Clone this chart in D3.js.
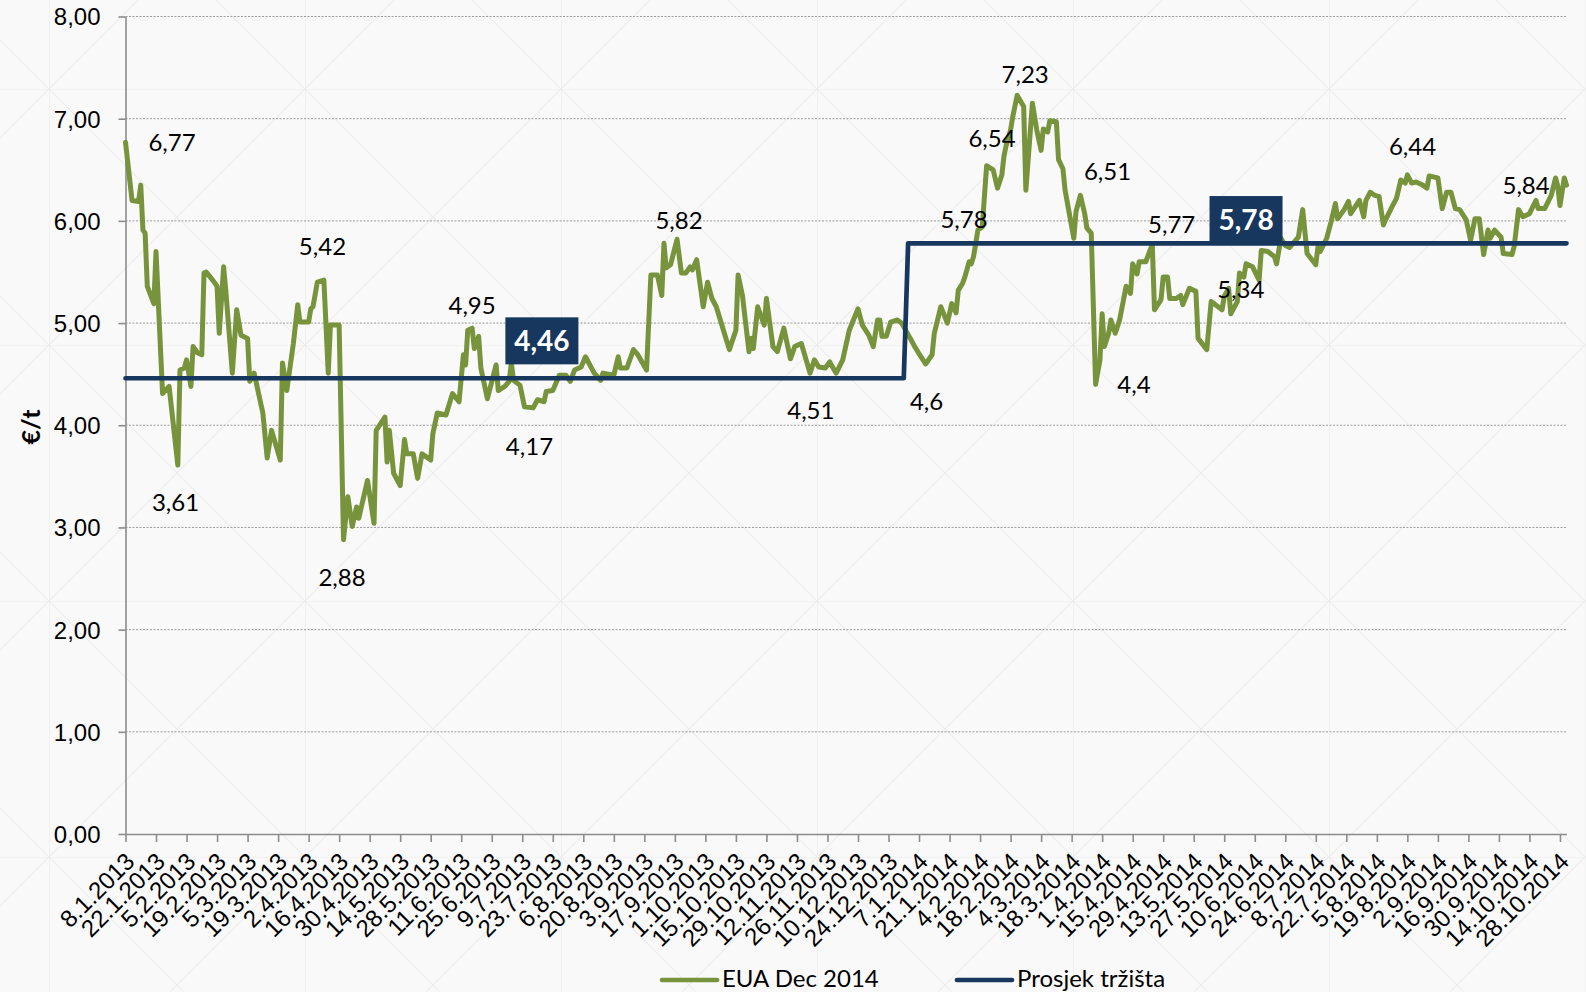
<!DOCTYPE html>
<html>
<head>
<meta charset="utf-8">
<script src="https://cdn.jsdelivr.net/npm/d3@7"></script>
<style>
  html, body { margin: 0; padding: 0; background: #f9f9f9; }
  svg { display: block; font-family: Lato, "Open Sans", "Noto Sans", sans-serif; }
</style>
</head>
<body>
<svg id="chart" width="1586" height="992"></svg>
<script>
// EUA Dec 2014 settlement price, €/t
const euaDec2014 = [
  ["2013-01-08",6.77],["2013-01-11",6.20],["2013-01-14",6.19],["2013-01-15",6.35],["2013-01-16",5.91],
  ["2013-01-17",5.88],["2013-01-18",5.36],["2013-01-21",5.19],["2013-01-22",5.70],["2013-01-25",4.31],
  ["2013-01-28",4.38],["2013-02-01",3.61],["2013-02-02",4.54],["2013-02-04",4.56],["2013-02-05",4.64],
  ["2013-02-07",4.38],["2013-02-08",4.77],["2013-02-10",4.71],["2013-02-12",4.69],["2013-02-13",5.49],
  ["2013-02-14",5.50],["2013-02-17",5.42],["2013-02-19",5.36],["2013-02-20",4.90],["2013-02-22",5.55],
  ["2013-02-23",5.32],["2013-02-26",4.51],["2013-02-28",5.13],["2013-03-02",4.88],["2013-03-05",4.85],
  ["2013-03-06",4.43],["2013-03-08",4.51],["2013-03-12",4.12],["2013-03-14",3.68],["2013-03-16",3.95],
  ["2013-03-20",3.66],["2013-03-21",4.61],["2013-03-23",4.34],["2013-03-26",4.80],["2013-03-28",5.18],
  ["2013-03-29",5.01],["2013-04-02",5.01],["2013-04-03",5.14],["2013-04-04",5.16],["2013-04-06",5.40],
  ["2013-04-09",5.42],["2013-04-11",4.51],["2013-04-12",4.98],["2013-04-16",4.98],["2013-04-18",2.88],
  ["2013-04-20",3.30],["2013-04-22",3.01],["2013-04-24",3.20],["2013-04-25",3.09],["2013-04-29",3.46],
  ["2013-05-02",3.04],["2013-05-03",3.95],["2013-05-07",4.08],["2013-05-08",3.64],["2013-05-09",3.95],
  ["2013-05-11",3.53],["2013-05-14",3.41],["2013-05-16",3.86],["2013-05-17",3.72],["2013-05-20",3.72],
  ["2013-05-22",3.48],["2013-05-24",3.72],["2013-05-28",3.66],["2013-05-29",3.92],["2013-05-31",4.12],
  ["2013-06-04",4.10],["2013-06-07",4.31],["2013-06-10",4.23],["2013-06-12",4.69],["2013-06-13",4.59],
  ["2013-06-14",4.93],["2013-06-16",4.95],["2013-06-17",4.75],["2013-06-19",4.87],["2013-06-20",4.56],
  ["2013-06-23",4.26],["2013-06-27",4.59],["2013-06-28",4.34],["2013-07-01",4.38],["2013-07-03",4.43],
  ["2013-07-04",4.61],["2013-07-05",4.44],["2013-07-08",4.39],["2013-07-10",4.18],["2013-07-14",4.17],
  ["2013-07-16",4.25],["2013-07-19",4.23],["2013-07-20",4.33],["2013-07-23",4.34],["2013-07-26",4.49],
  ["2013-07-29",4.49],["2013-07-31",4.43],["2013-08-02",4.54],["2013-08-05",4.57],["2013-08-07",4.67],
  ["2013-08-11",4.51],["2013-08-14",4.44],["2013-08-15",4.51],["2013-08-20",4.49],["2013-08-22",4.67],
  ["2013-08-23",4.56],["2013-08-26",4.56],["2013-08-29",4.74],["2013-08-31",4.69],["2013-09-04",4.54],
  ["2013-09-06",5.47],["2013-09-09",5.47],["2013-09-11",5.27],["2013-09-12",5.78],["2013-09-13",5.54],
  ["2013-09-15",5.57],["2013-09-18",5.82],["2013-09-20",5.49],["2013-09-22",5.49],["2013-09-24",5.55],
  ["2013-09-25",5.52],["2013-09-27",5.62],["2013-09-30",5.16],["2013-10-02",5.40],["2013-10-04",5.24],
  ["2013-10-06",5.16],["2013-10-09",4.95],["2013-10-12",4.74],["2013-10-15",4.93],["2013-10-16",5.47],
  ["2013-10-18",5.27],["2013-10-21",4.72],["2013-10-22",4.85],["2013-10-23",4.75],["2013-10-25",5.16],
  ["2013-10-28",4.98],["2013-10-29",5.24],["2013-11-01",4.77],["2013-11-03",4.72],["2013-11-06",4.95],
  ["2013-11-09",4.65],["2013-11-11",4.77],["2013-11-14",4.80],["2013-11-18",4.51],["2013-11-20",4.64],
  ["2013-11-22",4.57],["2013-11-25",4.56],["2013-11-27",4.62],["2013-11-30",4.51],["2013-12-03",4.64],
  ["2013-12-06",4.93],["2013-12-10",5.14],["2013-12-12",4.98],["2013-12-15",4.88],["2013-12-17",4.77],
  ["2013-12-19",5.03],["2013-12-20",5.03],["2013-12-21",4.87],["2013-12-23",4.87],["2013-12-25",5.01],
  ["2013-12-28",5.03],["2013-12-30",5.00],
  ["2014-01-03",4.85],["2014-01-05",4.77],["2014-01-07",4.70],["2014-01-10",4.60],["2014-01-13",4.69],
  ["2014-01-14",4.90],["2014-01-17",5.16],["2014-01-20",5.00],["2014-01-22",5.19],["2014-01-24",5.10],
  ["2014-01-25",5.32],["2014-01-27",5.39],["2014-01-28",5.45],["2014-01-30",5.60],["2014-01-31",5.58],
  ["2014-02-01",5.65],["2014-02-02",5.78],["2014-02-03",5.91],["2014-02-05",5.94],["2014-02-07",6.54],
  ["2014-02-10",6.50],["2014-02-12",6.32],["2014-02-14",6.45],["2014-02-15",6.64],["2014-02-16",6.74],
  ["2014-02-18",6.89],["2014-02-19",7.02],["2014-02-21",7.23],["2014-02-24",7.12],["2014-02-25",6.30],
  ["2014-02-28",7.15],["2014-03-02",6.89],["2014-03-04",6.69],["2014-03-05",6.90],["2014-03-07",6.87],
  ["2014-03-08",6.98],["2014-03-11",6.97],["2014-03-12",6.60],["2014-03-14",6.51],["2014-03-15",6.30],
  ["2014-03-19",5.83],["2014-03-20",6.09],["2014-03-22",6.25],["2014-03-24",6.07],["2014-03-25",5.93],
  ["2014-03-27",5.88],["2014-03-29",4.40],["2014-03-31",4.64],["2014-04-01",5.09],["2014-04-02",4.77],
  ["2014-04-04",4.90],["2014-04-05",5.03],["2014-04-07",4.90],["2014-04-09",5.03],["2014-04-12",5.36],
  ["2014-04-14",5.29],["2014-04-15",5.58],["2014-04-17",5.48],["2014-04-18",5.60],["2014-04-21",5.60],
  ["2014-04-24",5.77],["2014-04-25",5.13],["2014-04-28",5.23],["2014-04-29",5.45],["2014-05-01",5.45],
  ["2014-05-02",5.24],["2014-05-05",5.24],["2014-05-07",5.27],["2014-05-08",5.18],["2014-05-11",5.34],
  ["2014-05-14",5.31],["2014-05-15",4.85],["2014-05-19",4.74],["2014-05-21",5.21],["2014-05-26",5.13],
  ["2014-05-27",5.26],["2014-05-29",5.34],["2014-05-30",5.09],["2014-06-02",5.21],["2014-06-03",5.49],
  ["2014-06-05",5.45],["2014-06-06",5.58],["2014-06-09",5.55],["2014-06-12",5.42],["2014-06-13",5.71],
  ["2014-06-16",5.70],["2014-06-19",5.65],["2014-06-20",5.58],["2014-06-22",5.83],["2014-06-24",5.76],
  ["2014-06-26",5.74],["2014-06-30",5.84],["2014-07-02",6.11],["2014-07-04",5.68],["2014-07-08",5.57],
  ["2014-07-09",5.75],["2014-07-10",5.70],["2014-07-13",5.83],["2014-07-15",5.99],["2014-07-17",6.17],
  ["2014-07-18",6.02],["2014-07-21",6.11],["2014-07-23",6.19],["2014-07-24",6.07],["2014-07-28",6.20],
  ["2014-07-30",6.04],["2014-07-31",6.20],["2014-08-02",6.28],["2014-08-04",6.25],["2014-08-06",6.24],
  ["2014-08-08",5.96],["2014-08-09",6.01],["2014-08-12",6.14],["2014-08-14",6.22],["2014-08-16",6.40],
  ["2014-08-18",6.37],["2014-08-19",6.45],["2014-08-21",6.37],["2014-08-23",6.38],["2014-08-26",6.35],
  ["2014-08-28",6.32],["2014-08-29",6.44],["2014-08-31",6.43],["2014-09-02",6.42],["2014-09-04",6.12],
  ["2014-09-06",6.28],["2014-09-08",6.28],["2014-09-10",6.12],["2014-09-12",6.11],["2014-09-15",6.01],
  ["2014-09-17",5.81],["2014-09-19",6.02],["2014-09-21",6.02],["2014-09-23",5.67],["2014-09-25",5.91],
  ["2014-09-26",5.83],["2014-09-28",5.91],["2014-10-01",5.84],["2014-10-02",5.68],["2014-10-06",5.67],
  ["2014-10-07",5.75],["2014-10-09",6.11],["2014-10-11",6.04],["2014-10-14",6.07],["2014-10-17",6.20],
  ["2014-10-18",6.12],["2014-10-21",6.12],["2014-10-24",6.25],["2014-10-26",6.42],["2014-10-27",6.34],
  ["2014-10-28",6.15],["2014-10-30",6.42],["2014-10-31",6.35]
];

// Yearly market average (Prosjek tržišta)
const marketAverage = [
  ["2013-01-08",4.46],["2013-12-31",4.46],["2014-01-02",5.78],["2014-10-31",5.78]
];

// Dates of the EUA points that carry a value label
const labelledDates = [
  "2013-01-08","2013-02-01","2013-04-09","2013-04-18","2013-06-16","2013-07-14",
  "2013-09-18","2013-11-18","2014-01-10","2014-02-02","2014-02-07","2014-02-21",
  "2014-03-14","2014-03-29","2014-04-24","2014-05-29","2014-08-29","2014-10-01"
];

// Dates on the average line where the boxed average is shown
const averageBoxDates = ["2013-07-18","2014-06-06"];

const yTickValues = [0, 1, 2, 3, 4, 5, 6, 7, 8];
const axisStart = "2013-01-08";
const axisEnd = "2014-10-31";
const tickStepDays = 14;
const yAxisTitle = "€/t";
const seriesNames = ["EUA Dec 2014", "Prosjek tržišta"];

// ---- drawing ----
const GREEN = "#77933c", NAVY = "#17375e";
const parse = d3.utcParse("%Y-%m-%d");
const svg = d3.select("#chart");
const W = 1586, H = 992;

const x = d3.scaleUtc().domain([parse(axisStart), parse(axisEnd)]).range([125.5, 1566.5]);
const y = d3.scaleLinear().domain([0, 8]).range([834, 16.5]);
const comma = v => String(v).replace(".", ",");

// textured backdrop
const defs = svg.append("defs");
const pat = defs.append("pattern").attr("id", "tile")
  .attr("patternUnits", "userSpaceOnUse").attr("x", 49).attr("y", 89)
  .attr("width", 256).attr("height", 256);
pat.append("rect").attr("width", 256).attr("height", 256).attr("fill", "#f9f9f9");
[[0,0,256,0],[0,0,0,256],[0,0,256,256],[256,0,0,256]].forEach(s =>
  pat.append("line").attr("x1", s[0]).attr("y1", s[1]).attr("x2", s[2]).attr("y2", s[3])
     .attr("stroke", "#ededed").attr("stroke-width", 1.2));
svg.append("rect").attr("width", W).attr("height", H).attr("fill", "url(#tile)");

// horizontal gridlines
svg.append("g").selectAll("line").data(yTickValues.filter(v => v > 0)).join("line")
  .attr("x1", x.range()[0]).attr("x2", x.range()[1] + 1)
  .attr("y1", d => y(d)).attr("y2", d => y(d))
  .attr("stroke", "#9a9a9a").attr("stroke-width", 1).attr("stroke-dasharray", "2,1.5");

// y axis
const yAxis = svg.append("g").attr("transform", `translate(${x.range()[0]},0)`)
  .call(d3.axisLeft(y).tickValues(yTickValues).tickSize(7).tickSizeOuter(0)
    .tickFormat(d => d3.format(".2f")(d).replace(".", ",")));
yAxis.select(".domain").attr("stroke", "#8c8c8c").attr("stroke-width", 1.6);
yAxis.selectAll(".tick line").attr("stroke", "#8c8c8c").attr("stroke-width", 1.6);
yAxis.selectAll(".tick text").attr("x", -25).attr("dy", "0.35em")
  .attr("font-size", 24).attr("fill", "#000").attr("font-family", null);

// x axis
const xTicks = d3.utcDay.range(parse(axisStart), d3.utcDay.offset(parse(axisEnd), 1), tickStepDays);
const xAxis = svg.append("g").attr("transform", `translate(0,${y(0)})`)
  .call(d3.axisBottom(x).tickValues(xTicks).tickSize(8).tickSizeOuter(0)
    .tickFormat(d3.utcFormat("%-d.%-m.%Y")));
xAxis.select(".domain").attr("stroke", "#8c8c8c").attr("stroke-width", 1.6);
xAxis.selectAll(".tick line").attr("stroke", "#8c8c8c").attr("stroke-width", 1.6);
xAxis.selectAll(".tick text")
  .attr("x", 0).attr("y", 0).attr("dy", "0.35em")
  .attr("text-anchor", "end").attr("transform", "translate(4,23) rotate(-45)")
  .attr("font-size", 24).attr("fill", "#000").attr("font-family", null);

// y axis title
svg.append("text").attr("transform", "translate(31,427) rotate(-90)")
  .attr("text-anchor", "middle").attr("dy", "0.35em")
  .attr("font-size", 25).attr("font-weight", "bold").text(yAxisTitle);

// series
const line = d3.line().x(d => x(parse(d[0]))).y(d => y(d[1]));
svg.append("path").datum(euaDec2014).attr("d", line)
  .attr("fill", "none").attr("stroke", GREEN).attr("stroke-width", 5)
  .attr("stroke-linejoin", "round").attr("stroke-linecap", "round");
svg.append("path").datum(marketAverage).attr("d", line)
  .attr("fill", "none").attr("stroke", NAVY).attr("stroke-width", 4.7)
  .attr("stroke-linejoin", "round").attr("stroke-linecap", "round");

// value labels beside selected EUA points
const labelShift = [
  [46.5,0],[-2.3,37],[-1.4,-33.5],[-1.5,38],[0,-22.6],[-3.7,39],
  [2,-18.5],[0.8,37.7],[1,37.8],[-11.7,-24],[5.4,-27.3],[8,-21],
  [44.6,3],[38.4,0.7],[19.4,-19.3],[12.2,1],[-16.6,-29],[25,-52]
];
const euaByDate = new Map(euaDec2014);
svg.append("g").selectAll("text").data(labelledDates).join("text")
  .attr("x", (d, i) => x(parse(d)) + labelShift[i][0])
  .attr("y", (d, i) => y(euaByDate.get(d)) + labelShift[i][1])
  .attr("dy", "0.35em").attr("text-anchor", "middle")
  .attr("font-size", 24).attr("fill", "#000")
  .text(d => comma(euaByDate.get(d)));

// boxed yearly averages
const avgValueAt = dateStr => {
  const t = parse(dateStr);
  return t < parse("2014-01-01") ? marketAverage[0][1] : marketAverage[3][1];
};
const boxShift = [-37.4, -23.8];
const boxes = svg.append("g").selectAll("g").data(averageBoxDates).join("g")
  .attr("transform", (d, i) => `translate(${x(parse(d))},${y(avgValueAt(d)) + boxShift[i]})`);
boxes.append("rect").attr("x", -36.5).attr("y", -23.5).attr("width", 73).attr("height", 47)
  .attr("fill", NAVY);
boxes.append("text").attr("text-anchor", "middle").attr("dy", "0.36em")
  .attr("font-size", 28).attr("font-weight", "bold").attr("fill", "#fff")
  .text(d => comma(avgValueAt(d)));

// legend
const legend = svg.append("g");
const legendItems = [
  {name: seriesNames[0], color: GREEN, x0: 662},
  {name: seriesNames[1], color: NAVY, x0: 957}
];
legendItems.forEach(it => {
  legend.append("line").attr("x1", it.x0).attr("x2", it.x0 + 55)
    .attr("y1", 980).attr("y2", 980)
    .attr("stroke", it.color).attr("stroke-width", 4.7).attr("stroke-linecap", "round");
  legend.append("text").attr("x", it.x0 + 60).attr("y", 987)
    .attr("font-size", 24).attr("fill", "#000").text(it.name);
});
</script>
</body>
</html>
